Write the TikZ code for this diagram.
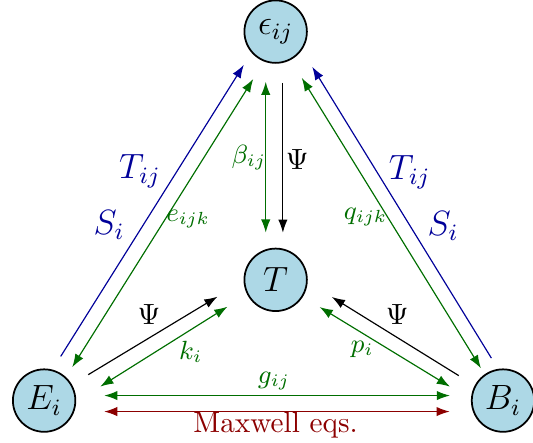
\documentclass[tikz,border=0pt]{standalone}
\usepackage{amsmath,amssymb}
\usepackage{tikz}
\usepackage{xcolor}
\usetikzlibrary{arrows.meta,positioning,calc}
\definecolor{lightblue}{RGB}{173,216,230}
\colorlet{dgreen}{green!43!black}
\colorlet{dblue}{blue!60!black}
\colorlet{dred}{red!55!black}

\begin{document}
\begin{tikzpicture}[
  field/.style={circle, draw, semithick, fill=lightblue, minimum size=0.75cm,
                inner sep=0pt, font=\large},
  oneway/.style={thin, -{Latex[length=4.5pt,width=3.2pt]}},
  twoway/.style={thin, {Latex[length=4.5pt,width=3.2pt]}-{Latex[length=4.5pt,width=3.2pt]}},
  glbl/.style={font=\small, text=dgreen},
  blbl/.style={font=\large, text=dblue}
]
\useasboundingbox (-0.53,-0.5) rectangle (5.87,4.81);

\node[field] (E) at (0,0) {$E_i$};
\node[field] (B) at (5.51,0) {$B_i$};
\node[field] (eps) at (2.78,4.43) {$\epsilon_{ij}$};
\node[field] (T) at (2.78,1.45) {$T$};

\draw[oneway, dblue, shorten <=5.3pt, shorten >=4.9pt] (E.75) -- (eps.221);
\draw[twoway, dgreen, shorten <=4pt, shorten >=7pt] (E.47) -- (eps.249);
\draw[oneway, dblue, shorten <=4.3pt, shorten >=6.7pt] (B.99) -- (eps.325);
\draw[twoway, dgreen, shorten <=2.4pt, shorten >=7.2pt] (B.125) -- (eps.298);

\draw[twoway, dgreen, shorten <=6.7pt, shorten >=5.7pt] (eps.252) -- (T.108);
\draw[oneway, shorten <=6.8pt, shorten >=5.4pt] (eps.283) -- (T.77);

\draw[oneway, shorten <=6.5pt, shorten >=10.4pt] (E.30) -- (T.182);
\draw[twoway, dgreen, shorten <=9.7pt, shorten >=7.9pt] (E.358) -- (T.207);
\draw[oneway, shorten <=6.4pt, shorten >=9.7pt] (B.152) -- (T.356);
\draw[twoway, dgreen, shorten <=8.4pt, shorten >=6.7pt] (B.178) -- (T.328);

\draw[twoway, dgreen, shorten <=9.7pt, shorten >=7.3pt] (E.9) -- (B.171);
\draw[twoway, dred, shorten <=10.2pt, shorten >=7.9pt] (E.340) -- (B.200);

\node[blbl] (tl) at (1.15,2.75) {$T_{ij}$};
\node[blbl] (sl) at (0.78,2.11) {$S_i$};
\node[glbl] (el) at (1.73,2.18) {$e_{ijk}$};
\node[blbl] (tr) at (4.39,2.74) {$T_{ij}$};
\node[blbl] (sr) at (4.79,2.10) {$S_i$};
\node[glbl] (qr) at (3.86,2.20) {$q_{ijk}$};
\node[glbl] (bt) at (2.46,2.92) {$\beta_{ij}$};
\node (pv) at (3.04,2.90) {$\Psi$};
\node (pl) at (1.26,1.03) {$\Psi$};
\node[glbl] (kl) at (1.76,0.59) {$k_i$};
\node (pr) at (4.24,1.03) {$\Psi$};
\node[glbl] (pp) at (3.82,0.61) {$p_i$};
\node[glbl] (gg) at (2.76,0.24) {$g_{ij}$};
\node[text=dred] (mx) at (2.78,-0.29) {Maxwell eqs.};
\end{tikzpicture}
\end{document}
